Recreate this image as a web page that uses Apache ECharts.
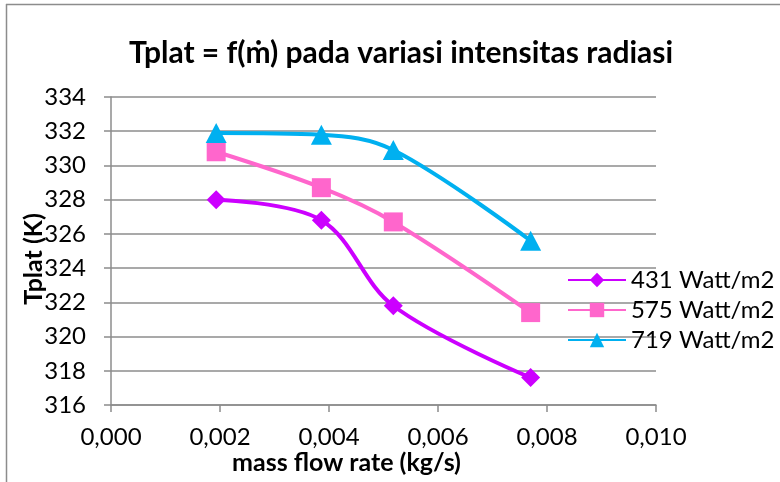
<!DOCTYPE html>
<html>
<head>
<meta charset="utf-8">
<script src="https://cdn.jsdelivr.net/npm/echarts@6/dist/echarts.min.js"></script>
<style>
  html, body { margin: 0; padding: 0; background: #fff; }
  #chart { width: 780px; height: 482px; }
</style>
</head>
<body>
<div id="chart"></div>
<script>
// mass flow rate (kg/s)
const massFlow = [0.00193, 0.00386, 0.00518, 0.0077]
const seriesNames = ['431 Watt/m2', '575 Watt/m2', '719 Watt/m2']
const t431 = [328.0, 326.8, 321.8, 317.6]
const t575 = [330.8, 328.7, 326.7, 321.4]
const t719 = [331.9, 331.8, 330.9, 325.6]
const colors = ['#cc00ff', '#ff66cc', '#00b0f0']
const symbols = ['diamond', 'rect', 'triangle']

const font = 'Lato, "Open Sans", sans-serif'
const gridColor = '#8c8c8c'

const chart = echarts.init(document.getElementById('chart'), null, { renderer: 'canvas' })

const values = [t431, t575, t719]

chart.setOption({
  backgroundColor: '#fff',
  animation: false,
  title: {
    text: 'Tplat = f(ṁ) pada variasi intensitas radiasi',
    left: 396,
    textAlign: 'center',
    top: 33,
    textStyle: { fontFamily: font, fontSize: 30, fontWeight: 'bold', color: '#000' }
  },
  legend: {
    orient: 'vertical',
    left: 567,
    top: 268,
    padding: 0,
    itemWidth: 58,
    itemHeight: 18,
    itemGap: 6,
    data: seriesNames,
    textStyle: { fontFamily: font, fontSize: 24, color: '#000' }
  },
  grid: { left: 111, top: 97, width: 545, height: 308, containLabel: false },
  xAxis: {
    type: 'value',
    min: 0,
    max: 0.01,
    interval: 0.002,
    name: 'mass flow rate (kg/s)',
    nameLocation: 'middle',
    nameGap: 45,
    nameMoveOverlap: false,
    nameTextStyle: { fontFamily: font, fontSize: 25, fontWeight: 'bold', color: '#000', padding: [0, 74, 0, 0] },
    axisLine: { lineStyle: { color: gridColor, width: 1.5 } },
    axisTick: { show: true, length: 7, lineStyle: { color: gridColor, width: 1.5 } },
    axisLabel: {
      fontFamily: font, fontSize: 24, color: '#000', margin: 20,
      formatter: v => v.toFixed(3).replace('.', ',')
    },
    splitLine: { show: false }
  },
  yAxis: {
    type: 'value',
    min: 316,
    max: 334,
    interval: 2,
    name: 'Tplat (K)',
    nameLocation: 'middle',
    nameGap: 65,
    nameMoveOverlap: false,
    nameTextStyle: { fontFamily: font, fontSize: 25, fontWeight: 'bold', color: '#000', padding: [0, 16, 0, 0] },
    axisLine: { show: true, lineStyle: { color: gridColor, width: 1.5 } },
    axisTick: { show: true, length: 7, lineStyle: { color: gridColor, width: 1.5 } },
    axisLabel: { fontFamily: font, fontSize: 24, color: '#000', margin: 25 },
    splitLine: { show: true, lineStyle: { color: gridColor, width: 1.5 } }
  },
  series: seriesNames.map((name, i) => ({
    name,
    type: 'line',
    smooth: 0.35,
    data: massFlow.map((x, j) => [x, values[i][j]]),
    symbol: symbols[i],
    symbolSize: i === 2 ? [21, 20] : 19,
    lineStyle: { color: colors[i], width: 4 },
    itemStyle: { color: colors[i] }
  })),
  graphic: [
    { type: 'line', shape: { x1: 6, y1: 4.5, x2: 780, y2: 4.5 }, style: { stroke: gridColor, lineWidth: 1.5 } },
    { type: 'line', shape: { x1: 6.5, y1: 4, x2: 6.5, y2: 482 }, style: { stroke: gridColor, lineWidth: 1.5 } }
  ]
})
</script>
</body>
</html>
